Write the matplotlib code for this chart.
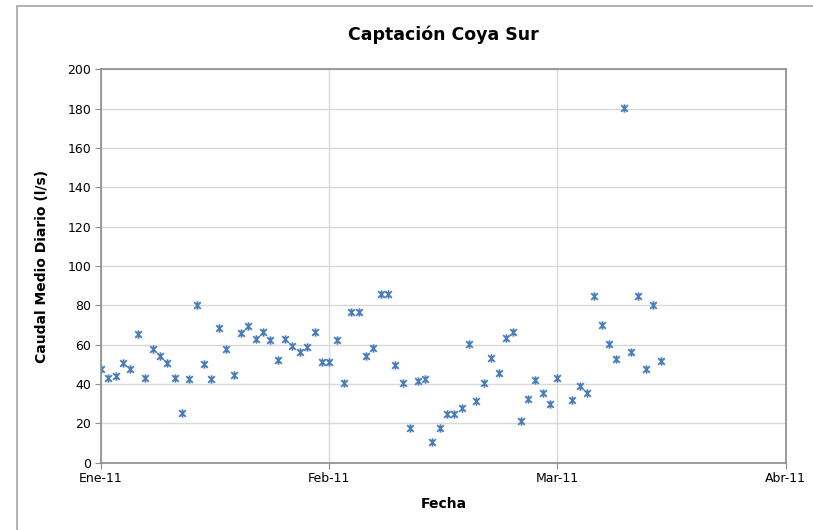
import matplotlib
matplotlib.use('Agg')
import matplotlib.pyplot as plt
from matplotlib.path import Path
from matplotlib.patches import Rectangle
import numpy as np

# caudal medio diario, un valor por día desde el 1 de enero de 2011 (nan = sin dato)
caudal_ene = [47.5, 42.9, 44.1, 50.8, 47.6, 65.4, 42.9, 57.6, 54.2, 50.5,
              42.9, 25.1, 42.7, 80.2, 50.2, 42.4, 68.5, 58.0, 44.6, 66.1,
              69.7, 63.1, 66.3, 62.4, 52.0, 62.9, 59.3, 56.4, 58.6, 66.3, 51.4]
caudal_feb = [51.4, 62.4, 40.3, 76.8, 76.8, 54.2, 58.1, 85.6, 85.6, 49.5,
              40.3, 17.6, 41.7, 42.4, 10.5, 17.6, 24.7, 24.7, 28.0, 60.2,
              31.5, 40.3, 53.1, 45.4, 63.2, 66.4, 21.2, 32.4]
caudal_mar = [42.0, 35.3, 29.7, 42.9, np.nan, 31.9, 38.8, 35.6, 84.6, 70.2,
              60.2, 52.5, 180.2, 56.4, 84.9, 47.8, 80.2, 51.7]
caudal = caudal_ene + caudal_feb + caudal_mar
dias = np.arange(len(caudal))

xticks = [0, 31, 62, 93]
xlabels = ['Ene-11', 'Feb-11', 'Mar-11', 'Abr-11']
yticks = list(range(0, 201, 20))

# marcador estilo Excel: x con barra vertical
star = Path([(-1, -1), (1, 1), (-1, 1), (1, -1), (0, -1.25), (0, 1.25)],
            [Path.MOVETO, Path.LINETO, Path.MOVETO, Path.LINETO, Path.MOVETO, Path.LINETO])

W, H = 813, 530
fig = plt.figure(figsize=(W / 100, H / 100), dpi=100)
fig.patches.append(Rectangle((17 / W, -0.1), 1.0, (H - 5.5) / H + 0.1,
                             transform=fig.transFigure, fill=False,
                             edgecolor='#a6a6a6', linewidth=1.2))

l, r, t, b = 101, 785.7, 69.3, 462.7
ax = fig.add_axes([l / W, (H - b) / H, (r - l) / W, (b - t) / H])

ax.plot(dias, caudal, linestyle='none', marker=star, markersize=6,
        markeredgewidth=1.3, color='#4A7EBB', markeredgecolor='#4A7EBB')

ax.set_xlim(0, 93)
ax.set_ylim(0, 200)
ax.set_xticks(xticks)
ax.set_xticklabels(xlabels)
ax.set_yticks(yticks)
ax.grid(True, color='#d9d9d9', linewidth=1)
ax.set_axisbelow(True)
for s in ax.spines.values():
    s.set_color('#8c8c8c')
    s.set_linewidth(1.2)
ax.tick_params(direction='out', length=4, color='#8c8c8c', labelsize=9, pad=3)

ax.set_title('Captación Coya Sur', fontsize=12.5, fontweight='bold', pad=21)
ax.set_xlabel('Fecha', fontsize=10, fontweight='bold', labelpad=8)
ax.set_ylabel('Caudal Medio Diario (l/s)', fontsize=10, fontweight='bold', labelpad=13)

fig.savefig('out.png', dpi=100)
